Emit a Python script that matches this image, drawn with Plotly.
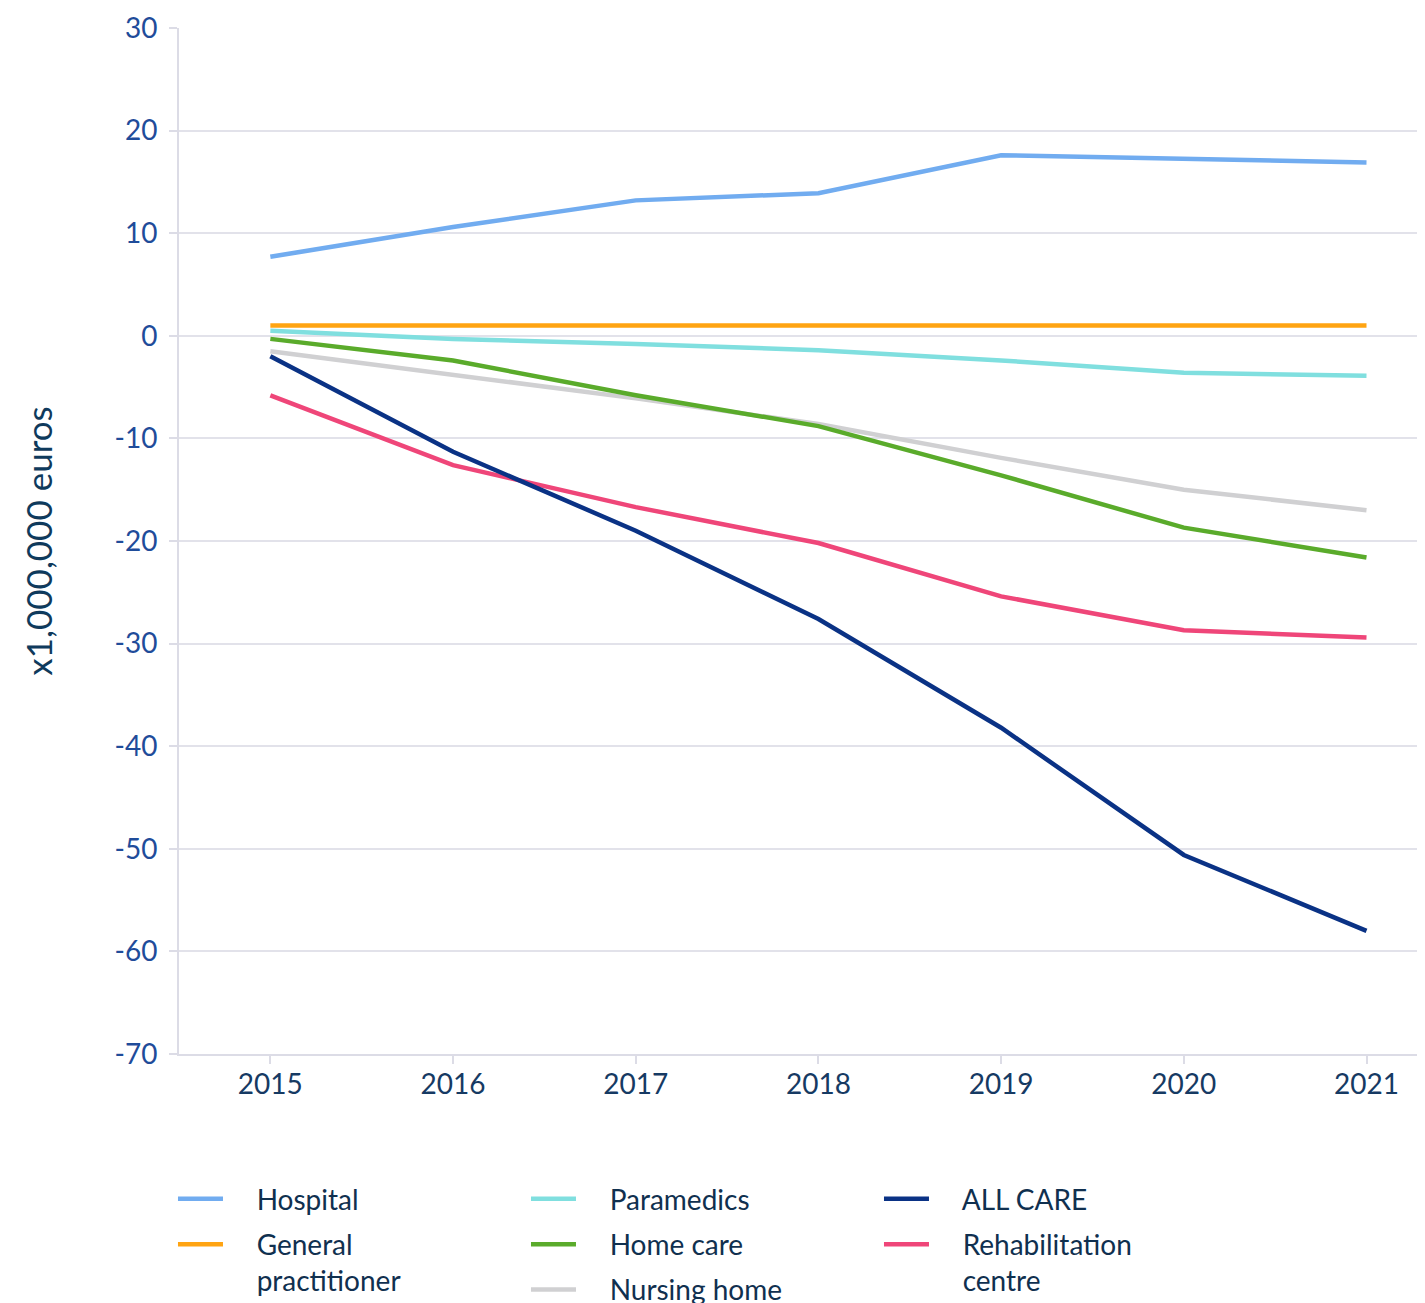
import plotly.graph_objects as go

years = ["2015", "2016", "2017", "2018", "2019", "2020", "2021"]
hospital = [7.7, 10.6, 13.2, 13.9, 17.6, 17.2, 16.9]
general_practitioner = [1.0, 1.0, 1.0, 1.0, 1.0, 1.0, 1.0]
paramedics = [0.5, -0.3, -0.8, -1.4, -2.4, -3.6, -3.9]
home_care = [-0.3, -2.4, -5.8, -8.8, -13.6, -18.7, -21.6]
nursing_home = [-1.5, -3.8, -6.1, -8.6, -11.9, -15.0, -17.0]
all_care = [-2.0, -11.3, -19.0, -27.6, -38.2, -50.6, -58.0]
rehabilitation = [-5.8, -12.6, -16.7, -20.2, -25.4, -28.7, -29.4]
y_ticks = [30, 20, 10, 0, -10, -20, -30, -40, -50, -60, -70]
y_tick_text = ["30", "20", "10", "0", "-10", "-20", "-30", "-40", "-50", "-60", "-70"]

xpos = list(range(len(years)))
PAD = "\u00a0" * 4

series = [
    ("Hospital", hospital, "#71acf0", "legend"),
    ("General<br>practitioner", general_practitioner, "#ffa412", "legend"),
    ("Paramedics", paramedics, "#80dfdf", "legend2"),
    ("Home care", home_care, "#5aab2b", "legend2"),
    ("Nursing home", nursing_home, "#d0d0d2", "legend2"),
    ("ALL CARE", all_care, "#0a3285", "legend3"),
    ("Rehabilitation<br>centre", rehabilitation, "#ef4679", "legend3"),
]

fig = go.Figure()
draw_order = [4, 0, 1, 2, 3, 6, 5]
for i in draw_order:
    name, vals, col, lg = series[i]
    label = "<br>".join(PAD + part for part in name.split("<br>"))
    fig.add_trace(go.Scatter(
        x=xpos, y=vals, name=label, mode="lines",
        line=dict(color=col, width=4.5), legend=lg,
        legendrank=i, legendgroup="g%d" % i,
    ))

legend_common = dict(
    orientation="v", yanchor="top", xanchor="left",
    font=dict(family="Lato, sans-serif", size=28, color="#10304f"),
    bgcolor="rgba(0,0,0,0)", itemwidth=45, valign="top",
    tracegroupgap=6, traceorder="grouped",
)
ly = -0.117
fig.update_layout(
    width=1425, height=1303,
    margin=dict(l=171, r=0, t=20, b=257, autoexpand=False),
    paper_bgcolor="white", plot_bgcolor="white",
    font=dict(family="Lato, sans-serif"),
    showlegend=True,
    legend=dict(x=-0.0048, y=ly, **legend_common),
    legend2=dict(x=0.2767, y=ly, **legend_common),
    legend3=dict(x=0.5582, y=ly, **legend_common),
    xaxis=dict(
        range=[-0.5, 6.364], tickvals=xpos, ticktext=years,
        showgrid=False, zeroline=False, automargin=False,
        showline=True, linecolor="#dcdce6", linewidth=2,
        ticks="outside", ticklen=8, tickcolor="#dcdce6", tickwidth=2,
        ticklabelstandoff=-4,
        tickfont=dict(family="Lato, sans-serif", size=28, color="#163a63"),
    ),
    yaxis=dict(
        range=[-70, 30], tickvals=y_ticks, ticktext=y_tick_text,
        showgrid=True, gridcolor="#e2e2ea", gridwidth=1.5,
        zeroline=False, automargin=False,
        showline=True, linecolor="#dcdce6", linewidth=2,
        ticks="outside", ticklen=8, tickcolor="#dcdce6", tickwidth=2,
        ticklabelstandoff=6,
        tickfont=dict(family="Lato, sans-serif", size=28, color="#1f4c9a"),
        title=dict(text="x1,000,000 euros", standoff=51,
                   font=dict(family="Lato, sans-serif", size=35, color="#0f3a5c")),
    ),
)

fig.write_html("out.html")
